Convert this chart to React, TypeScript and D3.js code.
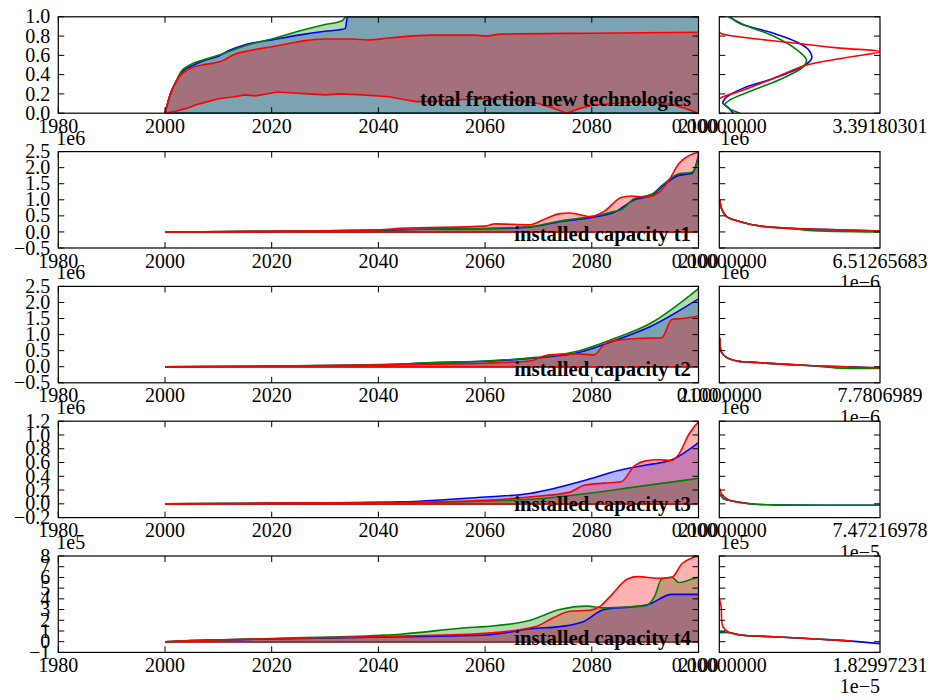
import React from "react";
import * as d3 from "d3";

type P = [number, number];

const tickYears = [1980, 2000, 2020, 2040, 2060, 2080, 2100];

// envelopes: [year, value]
const zeroLow: P[] = [[2000, 0], [2100, 0]];

// row 1 - total fraction new technologies
const fracBlueUp: P[] = [[2000, 0], [2001, 0.2], [2002, 0.32], [2003, 0.42], [2005, 0.49], [2007, 0.54], [2010, 0.59], [2012, 0.65], [2015, 0.71], [2020, 0.76], [2025, 0.81], [2030, 0.85], [2033.2, 0.87], [2033.8, 0.88], [2034.2, 1.0], [2100, 1.0]];
const fracGreenUp: P[] = [[2000, 0], [2001, 0.2], [2002, 0.32], [2003, 0.43], [2005, 0.51], [2007, 0.55], [2010, 0.6], [2012, 0.64], [2015, 0.7], [2020, 0.77], [2025.7, 0.86], [2030, 0.92], [2033.2, 0.96], [2034, 1.0], [2100, 1.0]];
const fracRedUp: P[] = [[2000, 0], [2001, 0.2], [2002, 0.32], [2003, 0.4], [2005, 0.47], [2007, 0.5], [2010, 0.53], [2011, 0.55], [2013, 0.61], [2016, 0.65], [2020, 0.69], [2023, 0.72], [2026, 0.75], [2030, 0.77], [2035, 0.77], [2038, 0.76], [2042, 0.78], [2050, 0.81], [2058, 0.81], [2060, 0.8], [2063, 0.82], [2080, 0.83], [2090, 0.835], [2100, 0.84]];
const fracRedLow: P[] = [[2000, 0], [2002, 0.02], [2004, 0.05], [2006, 0.09], [2008, 0.12], [2010, 0.15], [2013, 0.17], [2015, 0.19], [2017, 0.18], [2019, 0.2], [2021, 0.22], [2024, 0.21], [2027, 0.2], [2030, 0.19], [2033, 0.2], [2037, 0.19], [2042, 0.17], [2045, 0.14], [2047, 0.12], [2050, 0.12], [2055, 0.14], [2060, 0.15], [2065, 0.14], [2070, 0.1], [2072.7, 0.055], [2075.3, 0.0], [2077.8, 0.05], [2080, 0.08], [2084, 0.1], [2088, 0.12], [2092, 0.11], [2095, 0.09], [2097.5, 0.05], [2100, 0.0]];

// row 2 - installed capacity t1 (1e6)
const t1BlueUp: P[] = [[2000, 0], [2020, 0.02], [2040, 0.05], [2050, 0.09], [2060, 0.1], [2068.3, 0.15], [2074, 0.32], [2080, 0.45], [2084.2, 0.61], [2088, 1.0], [2091.2, 1.13], [2093.1, 1.4], [2096.3, 1.76], [2098.8, 1.82], [2100, 2.38]];
const t1GreenUp: P[] = [[2000, 0], [2020, 0.02], [2040, 0.06], [2050, 0.09], [2060, 0.11], [2068.3, 0.16], [2074, 0.34], [2077, 0.41], [2079.9, 0.48], [2084.2, 0.64], [2085.5, 0.69], [2088, 1.04], [2091.2, 1.17], [2093.1, 1.44], [2096.3, 1.81], [2098.8, 1.86], [2099.8, 2.23], [2100, 2.44]];
const t1RedUp: P[] = [[2000, 0], [2020, 0.02], [2040, 0.07], [2044.1, 0.11], [2060, 0.18], [2061.9, 0.25], [2068.3, 0.22], [2070.8, 0.37], [2074, 0.57], [2075.9, 0.59], [2079.7, 0.48], [2082.3, 0.64], [2085.5, 1.07], [2087.4, 1.12], [2089.9, 1.08], [2092.5, 1.22], [2094.4, 1.59], [2096.3, 2.12], [2098.8, 2.42], [2100, 2.47]];

// row 3 - installed capacity t2 (1e6)
const t2BlueUp: P[] = [[2000, 0], [2020, 0.02], [2040, 0.06], [2050, 0.12], [2060, 0.17], [2069.5, 0.27], [2077.7, 0.45], [2083.5, 0.77], [2091.1, 1.26], [2100, 2.11]];
const t2GreenUp: P[] = [[2000, 0], [2020, 0.02], [2044.1, 0.08], [2050, 0.13], [2060, 0.18], [2069.5, 0.29], [2077.7, 0.5], [2083.5, 0.83], [2091.1, 1.36], [2100, 2.43]];
const t2RedUp: P[] = [[2000, 0], [2020, 0.02], [2040, 0.05], [2050, 0.08], [2060, 0.11], [2068.3, 0.18], [2072.1, 0.37], [2077.2, 0.4], [2080.4, 0.37], [2082.3, 0.69], [2083.5, 0.79], [2088.6, 0.88], [2093.1, 0.9], [2095, 1.47], [2096.9, 1.5], [2100, 1.58]];

// row 4 - installed capacity t3 (1e6)
const t3BlueUp: P[] = [[2000, 0], [2020, 0.01], [2044.1, 0.03], [2060, 0.1], [2068.3, 0.15], [2072.7, 0.22], [2079.1, 0.35], [2084.8, 0.48], [2089.9, 0.56], [2095, 0.64], [2100, 0.89]];
const t3GreenUp: P[] = [[2000, 0], [2020, 0.005], [2044.1, 0.01], [2060, 0.04], [2069.5, 0.07], [2079.1, 0.15], [2088.6, 0.25], [2100, 0.37]];
const t3RedUp: P[] = [[2000, 0], [2020, 0.01], [2044.1, 0.02], [2060, 0.05], [2068.3, 0.1], [2075.9, 0.17], [2078.5, 0.27], [2082.3, 0.3], [2085.5, 0.32], [2088, 0.55], [2089.9, 0.62], [2092.5, 0.64], [2095, 0.63], [2096.3, 0.72], [2098.2, 1.01], [2100, 1.19]];

// row 5 - installed capacity t4 (1e5)
const t4BlueUp: P[] = [[2000, 0], [2005, 0.1], [2020, 0.25], [2044.1, 0.46], [2060, 0.62], [2069.5, 1.25], [2074, 1.41], [2078.5, 1.89], [2082.3, 3.0], [2087.4, 3.25], [2090.6, 3.48], [2095, 4.42], [2100, 4.42]];
const t4GreenUp: P[] = [[2000, 0], [2005, 0.1], [2020, 0.3], [2040.4, 0.6], [2044.1, 0.7], [2056.5, 1.3], [2060, 1.41], [2068.3, 1.98], [2074, 3.0], [2079.1, 3.32], [2082.3, 3.16], [2087.4, 3.25], [2089.9, 3.32], [2091.8, 4.26], [2093.1, 5.85], [2095, 6.01], [2096.3, 5.53], [2098.8, 5.85], [2100, 6.01]];
const t4RedUp: P[] = [[2000, 0], [2005, 0.1], [2020, 0.27], [2044.1, 0.52], [2060, 0.78], [2069.5, 1.41], [2072.7, 2.21], [2075.9, 2.84], [2079.7, 2.93], [2081.6, 3.32], [2083.5, 4.26], [2086.7, 5.85], [2088.6, 6.07], [2092.5, 5.92], [2095, 6.01], [2096.9, 7.28], [2098.8, 7.82], [2100, 7.98]];

// kernel densities: [value, density]
const fracBlueKde: P[] = [[0.0, 0.3], [0.07, 0.16], [0.1, 0.08], [0.12, 0.08], [0.17, 0.16], [0.26, 0.51], [0.36, 1.14], [0.5, 1.81], [0.57, 1.95], [0.66, 1.88], [0.74, 1.63], [0.83, 1.14], [0.93, 0.44], [1.0, 0.23]];
const fracGreenKde: P[] = [[0.0, 0.44], [0.05, 0.2], [0.09, 0.12], [0.14, 0.23], [0.24, 0.72], [0.35, 1.28], [0.48, 1.77], [0.55, 1.84], [0.66, 1.63], [0.8, 1.14], [0.92, 0.51], [1.0, 0.19]];
const fracRedKde: P[] = [[0.15, 0.0], [0.17, 0.08], [0.24, 0.51], [0.36, 1.14], [0.5, 1.84], [0.57, 2.6], [0.64, 3.39], [0.675, 2.55], [0.733, 1.49], [0.83, 0.02], [0.85, 0.0]];

const t1BlueKde: P[] = [[1.0, 0.02], [0.7, 0.1], [0.48, 0.3], [0.32, 0.85], [0.18, 1.7], [0.11, 2.95], [0.06, 5.0], [0.03, 6.51]];
const t1GreenKde: P[] = [[1.0, 0.02], [0.7, 0.11], [0.48, 0.3], [0.32, 0.85], [0.18, 1.68], [0.11, 2.9], [0.05, 3.6], [0.0, 6.51]];
const t1RedKde: P[] = [[1.0, 0.02], [0.7, 0.1], [0.48, 0.29], [0.32, 0.84], [0.18, 1.66], [0.11, 2.9], [0.06, 4.96], [0.03, 6.51]];

const t2BlueKde: P[] = [[0.9, 0.02], [0.45, 0.11], [0.29, 0.35], [0.18, 0.85], [0.13, 1.83], [0.04, 4.3], [-0.03, 7.78]];
const t2GreenKde: P[] = [[0.9, 0.02], [0.45, 0.11], [0.29, 0.35], [0.18, 0.86], [0.13, 1.84], [0.04, 4.28], [-0.035, 5.6], [-0.05, 7.78]];
const t2RedKde: P[] = [[0.9, 0.02], [0.45, 0.1], [0.29, 0.34], [0.18, 0.84], [0.13, 1.82], [0.04, 4.28], [-0.03, 7.78]];

const t3BlueKde: P[] = [[0.14, 0.05], [0.08, 0.17], [0.04, 0.62], [0.0, 1.43], [-0.015, 2.5], [-0.02, 7.47]];
const t3GreenKde: P[] = [[0.14, 0.05], [0.08, 0.17], [0.04, 0.62], [0.0, 1.43], [-0.015, 2.5], [-0.02, 7.47]];
const t3RedKde: P[] = [[0.22, 0.03], [0.15, 0.09], [0.05, 0.49], [0.0, 1.43]];

const t4BlueKde: P[] = [[0.84, 0.0], [0.84, 0.12], [0.62, 0.24], [0.46, 0.62], [0.21, 1.2], [0.05, 1.51], [-0.18, 1.83]];
const t4GreenKde: P[] = [[0.9, 0.0], [0.88, 0.1], [0.62, 0.24], [0.46, 0.62], [0.21, 1.2], [0.05, 1.51]];
const t4RedKde: P[] = [[4.0, 0.0], [3.32, 0.02], [1.41, 0.04], [0.93, 0.1], [0.62, 0.24], [0.46, 0.62], [0.21, 1.2], [0.05, 1.51]];

// axis ticks
const fracTicks = [0, 0.2, 0.4, 0.6, 0.8, 1.0];
const t12Ticks = [-0.5, 0, 0.5, 1.0, 1.5, 2.0, 2.5];
const t3Ticks = [-0.2, 0, 0.2, 0.4, 0.6, 0.8, 1.0, 1.2];
const t4Ticks = [-1, 0, 1, 2, 3, 4, 5, 6, 7, 8];

const BLUE = "#0000ff", GREEN = "#008000", RED = "#ff0000";

const rows = [
  { title: "total fraction new technologies", domain: [0, 1], ticks: fracTicks, fmt: d3.format(".1f"), yOff: "",
    kdeMax: 3.39180301, kdeMaxLabel: "3.39180301", kdeZeroLabel: "0.00000000", xOff: "",
    env: [[BLUE, fracBlueUp, zeroLow], [GREEN, fracGreenUp, zeroLow], [RED, fracRedUp, fracRedLow]],
    kde: [[BLUE, fracBlueKde], [GREEN, fracGreenKde], [RED, fracRedKde]] },
  { title: "installed capacity t1", domain: [-0.5, 2.5], ticks: t12Ticks, fmt: d3.format(".1f"), yOff: "1e6",
    kdeMax: 6.51265683, kdeMaxLabel: "6.51265683", kdeZeroLabel: "0.00000000", xOff: "1e\u22126",
    env: [[BLUE, t1BlueUp, zeroLow], [GREEN, t1GreenUp, zeroLow], [RED, t1RedUp, zeroLow]],
    kde: [[BLUE, t1BlueKde], [GREEN, t1GreenKde], [RED, t1RedKde]] },
  { title: "installed capacity t2", domain: [-0.5, 2.5], ticks: t12Ticks, fmt: d3.format(".1f"), yOff: "1e6",
    kdeMax: 7.7806989, kdeMaxLabel: "7.7806989", kdeZeroLabel: "0.0000000", xOff: "1e\u22126",
    env: [[BLUE, t2BlueUp, zeroLow], [GREEN, t2GreenUp, zeroLow], [RED, t2RedUp, zeroLow]],
    kde: [[BLUE, t2BlueKde], [GREEN, t2GreenKde], [RED, t2RedKde]] },
  { title: "installed capacity t3", domain: [-0.2, 1.2], ticks: t3Ticks, fmt: d3.format(".1f"), yOff: "1e6",
    kdeMax: 7.47216978, kdeMaxLabel: "7.47216978", kdeZeroLabel: "0.00000000", xOff: "1e\u22125",
    env: [[BLUE, t3BlueUp, zeroLow], [GREEN, t3GreenUp, zeroLow], [RED, t3RedUp, zeroLow]],
    kde: [[BLUE, t3BlueKde], [GREEN, t3GreenKde], [RED, t3RedKde]] },
  { title: "installed capacity t4", domain: [-1, 8], ticks: t4Ticks, fmt: d3.format("d"), yOff: "1e5",
    kdeMax: 1.82997231, kdeMaxLabel: "1.82997231", kdeZeroLabel: "0.00000000", xOff: "1e\u22125",
    env: [[BLUE, t4BlueUp, zeroLow], [GREEN, t4GreenUp, zeroLow], [RED, t4RedUp, zeroLow]],
    kde: [[BLUE, t4BlueKde], [GREEN, t4GreenKde], [RED, t4RedKde]] },
];

const ML = 58.3, MR = 698.5, KL = 719.3, KR = 880;
const TOP0 = 16.8, STEP = 134.8, RH = 96.4;
const FONT = "'Liberation Serif', 'Times New Roman', serif";
const TL = 6;

const x = d3.scaleLinear().domain([1980, 2100]).range([ML, MR]);

const Row = ({ row, i }: { row: any; i: number }) => {
  const top = TOP0 + i * STEP;
  const bottom = top + RH;
  const y = d3.scaleLinear().domain(row.domain).range([bottom, top]);
  const kx = d3.scaleLinear().domain([0, row.kdeMax]).range([KL, KR]);

  const upLine = d3.line<P>().x(d => x(d[0])).y(d => y(d[1])).curve(d3.curveMonotoneX);
  const loLine = d3.line<P>().x(d => x(d[0])).y(d => y(d[1]));
  const kdeLine = d3.line<P>().x(d => kx(d[1])).y(d => y(d[0])).curve(d3.curveCatmullRom.alpha(0.5));

  return (
    <g>
      <defs>
        <clipPath id={`cm${i}`}><rect x={ML} y={top} width={MR - ML} height={RH} /></clipPath>
        <clipPath id={`ck${i}`}><rect x={KL} y={top} width={KR - KL} height={RH} /></clipPath>
      </defs>
      <rect x={ML} y={top} width={MR - ML} height={RH} fill="#fff" />
      <rect x={KL} y={top} width={KR - KL} height={RH} fill="#fff" />

      <g clipPath={`url(#cm${i})`}>
        {row.env.map(([color, up, lo]: any, k: number) => (
          <path key={k} d={upLine(up) + "L" + (loLine([...lo].reverse()) as string).slice(1) + "Z"} fill={color} fillOpacity={0.3} stroke="none" />
        ))}
        {row.env.map(([color, up, lo]: any, k: number) => (
          <g key={k}>
            <path d={loLine(lo) as string} fill="none" stroke={color} strokeWidth={1.6} />
            <path d={upLine(up) as string} fill="none" stroke={color} strokeWidth={1.6} />
          </g>
        ))}
      </g>

      <g clipPath={`url(#ck${i})`}>
        {row.kde.map(([color, pts]: any, k: number) => (
          <path key={k} d={kdeLine(pts) as string} fill="none" stroke={color} strokeWidth={1.6} />
        ))}
      </g>

      {/* ticks */}
      <g stroke="#000" strokeWidth={1}>
        {tickYears.map(t => (
          <g key={t}>
            <line x1={x(t)} x2={x(t)} y1={bottom} y2={bottom - TL} />
            <line x1={x(t)} x2={x(t)} y1={top} y2={top + TL} />
          </g>
        ))}
        {row.ticks.map((t: number) => (
          <g key={t}>
            <line x1={ML} x2={ML + TL} y1={y(t)} y2={y(t)} />
            <line x1={MR} x2={MR - TL} y1={y(t)} y2={y(t)} />
            <line x1={KL} x2={KL + TL} y1={y(t)} y2={y(t)} />
            <line x1={KR} x2={KR - TL} y1={y(t)} y2={y(t)} />
          </g>
        ))}
      </g>

      <rect x={ML} y={top} width={MR - ML} height={RH} fill="none" stroke="#000" strokeWidth={1.2} />
      <rect x={KL} y={top} width={KR - KL} height={RH} fill="none" stroke="#000" strokeWidth={1.2} />

      <g fontFamily={FONT} fontSize={20} fill="#000">
        {row.ticks.map((t: number) => (
          <text key={t} x={ML - 8} y={y(t)} dy="0.33em" textAnchor="end">{row.fmt(t)}</text>
        ))}
        {tickYears.map(t => (
          <text key={t} x={x(t)} y={bottom + 19.5} textAnchor="middle">{t}</text>
        ))}
        <text x={kx(0)} y={bottom + 19.5} textAnchor="middle">{row.kdeZeroLabel}</text>
        <text x={kx(row.kdeMax)} y={bottom + 19.5} textAnchor="middle">{row.kdeMaxLabel}</text>
        {row.yOff && <text x={ML - 2} y={top - 7}>{row.yOff}</text>}
        {row.yOff && <text x={KL + 1} y={top - 7}>{row.yOff}</text>}
        {row.xOff && <text x={KR} y={bottom + 41} textAnchor="end">{row.xOff}</text>}
        <text x={MR - 7.5} y={bottom - 7} textAnchor="end" fontWeight="bold" fontSize={20.8}>{row.title}</text>
      </g>
    </g>
  );
};

export default function App() {
  return (
    <svg width={932} height={700} style={{ position: "absolute", left: 0, top: 0, background: "#fff" }}>
      {rows.map((row, i) => <Row key={i} row={row} i={i} />)}
    </svg>
  );
}
